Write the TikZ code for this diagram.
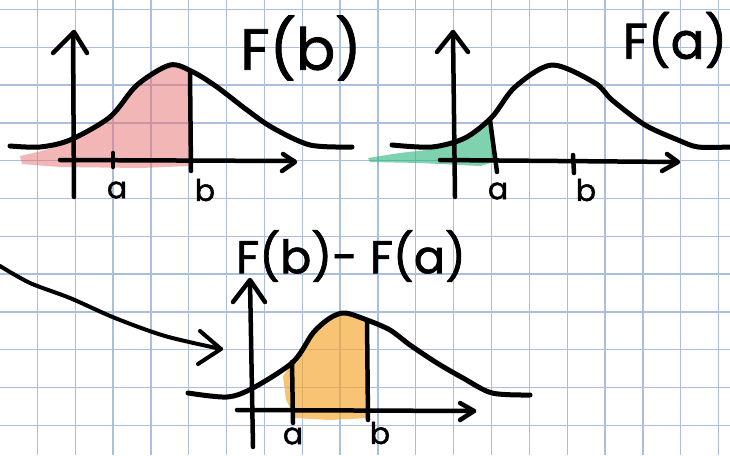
\documentclass[tikz,border=0pt]{standalone}
\usepackage{fontspec}
\setmainfont{Poppins}
\newfontfamily\handfont{Poppins}[FakeBold=1.5]
\definecolor{gridblue}{RGB}{172,190,222}
\definecolor{redfill}{RGB}{232,110,110}
\definecolor{greenfill}{RGB}{40,180,120}
\definecolor{orangefill}{RGB}{245,165,40}
\begin{document}
\begin{tikzpicture}[x=1pt,y=-1pt,
  gridline/.style={draw=gridblue,line width=1.3pt},
  ink/.style={draw=black,line width=5pt,line cap=round,line join=round},
  axisline/.style={draw=black,line width=4.5pt,line cap=round,line join=round},
  bigtitle/.style={inner sep=0pt,font=\handfont\fontsize{58}{58}\selectfont},
  midtitle/.style={inner sep=0pt,font=\handfont\fontsize{50}{50}\selectfont},
  lowtitle/.style={inner sep=0pt,font=\handfont\fontsize{46}{46}\selectfont},
  ticklabel/.style={inner sep=0pt,font=\handfont\fontsize{30}{30}\selectfont}]
\useasboundingbox (0,0) rectangle (730,455);
\fill[white] (0,0) rectangle (730,455);
% grid
\foreach \k in {0,...,18} \draw[gridline] ({37.3+37.85*\k},0) -- ({37.3+37.85*\k},455);
\foreach \k in {0,...,11} \draw[gridline] (0,{9.5+37.8*\k}) -- (730,{9.5+37.8*\k});

% ---------- top-left graph F(b) ----------
\fill[redfill,opacity=0.5] plot[smooth] coordinates {(20,156) (45,150) (73,140) (110,117) (137,85) (170,65) (190,70)}
  -- (190,166) -- (140,168) -- (60,167) -- (22,164) -- cycle;
\draw[ink] plot[smooth] coordinates {(10,146) (40,147) (70,140) (110,117) (137,85) (170,65) (193,72) (217,87) (247,110) (273,128) (310,145) (352,147)};
\draw[axisline] (73,33) -- (74,197);
\draw[axisline] (53,53) -- (74,32) -- (87,53);
\draw[axisline] (60,160) -- (294,161);
\draw[axisline] (283,154) -- (295,162) -- (282,171);
\draw[axisline] (113,153) -- (113,167);
\draw[axisline] (190,72) -- (191,171);
\node[ticklabel] (la1) at (117,190) {a};
\node[ticklabel] (lb1) at (205,190) {b};
\node[bigtitle] (tFb) at (301,48) {F(b)};

% ---------- top-right graph F(a) ----------
\fill[greenfill,opacity=0.6] plot[smooth] coordinates {(368,158) (400,153) (440,148) (465,138) (490,120)}
  -- (494,162) -- (480,166) -- (420,163) -- (370,162) -- cycle;
\draw[ink] plot[smooth] coordinates {(392,145) (432,147) (465,138) (492,117) (515,87) (552,65) (595,83) (612,100) (645,125) (678,140) (698,147) (730,147)};
\draw[axisline] (453,33) -- (455,197);
\draw[axisline] (437,52) -- (453,32) -- (468,52);
\draw[axisline] (440,160) -- (677,162);
\draw[axisline] (667,154) -- (678,162) -- (662,171);
\draw[axisline] (573,155) -- (574,173);
\draw[axisline] (490,120) -- (497,172);
\node[ticklabel] (la2) at (498,191) {a};
\node[ticklabel] (lb2) at (586,190) {b};
\node[midtitle] (tFa) at (675,40) {F(a)};

% ---------- bottom graph F(b)-F(a) ----------
\fill[orangefill,opacity=0.65] plot[smooth] coordinates {(283,376) (293,362) (313,333) (330,318) (345,313) (367,320)}
  -- (368,418) -- (330,420) -- (295,418) -- (286,400) -- cycle;
\draw[ink] plot[smooth] coordinates {(188,393) (227,397) (253,388) (293,362) (313,333) (330,318) (345,313) (367,320) (390,330) (410,345) (437,363) (463,378) (492,393) (530,395)};
\draw[axisline] (250,281) -- (253,447);
\draw[axisline] (233,302) -- (250,280) -- (265,302);
\draw[axisline] (237,410) -- (474,411);
\draw[axisline] (460,403) -- (474,411) -- (460,420);
\draw[axisline] (292,362) -- (293,423);
\draw[axisline] (367,320) -- (368,420);
\node[ticklabel] (la3) at (293,436) {a};
\node[ticklabel] (lb3) at (380,433) {b};
\node[lowtitle] (tDiff) at (351,256) {F(b)- F(a)};

% ---------- incoming arrow ----------
\coordinate (arrStart) at (0,266);
\coordinate (arrEnd) at (221,349);
\draw[ink,line width=4pt] plot[smooth] coordinates {(0,266) (30,283) (70,298) (115,318) (165,336) (221,349)};
\draw[ink,line width=4pt] (200,331) -- (arrEnd) -- (198,364);
\end{tikzpicture}
\end{document}
